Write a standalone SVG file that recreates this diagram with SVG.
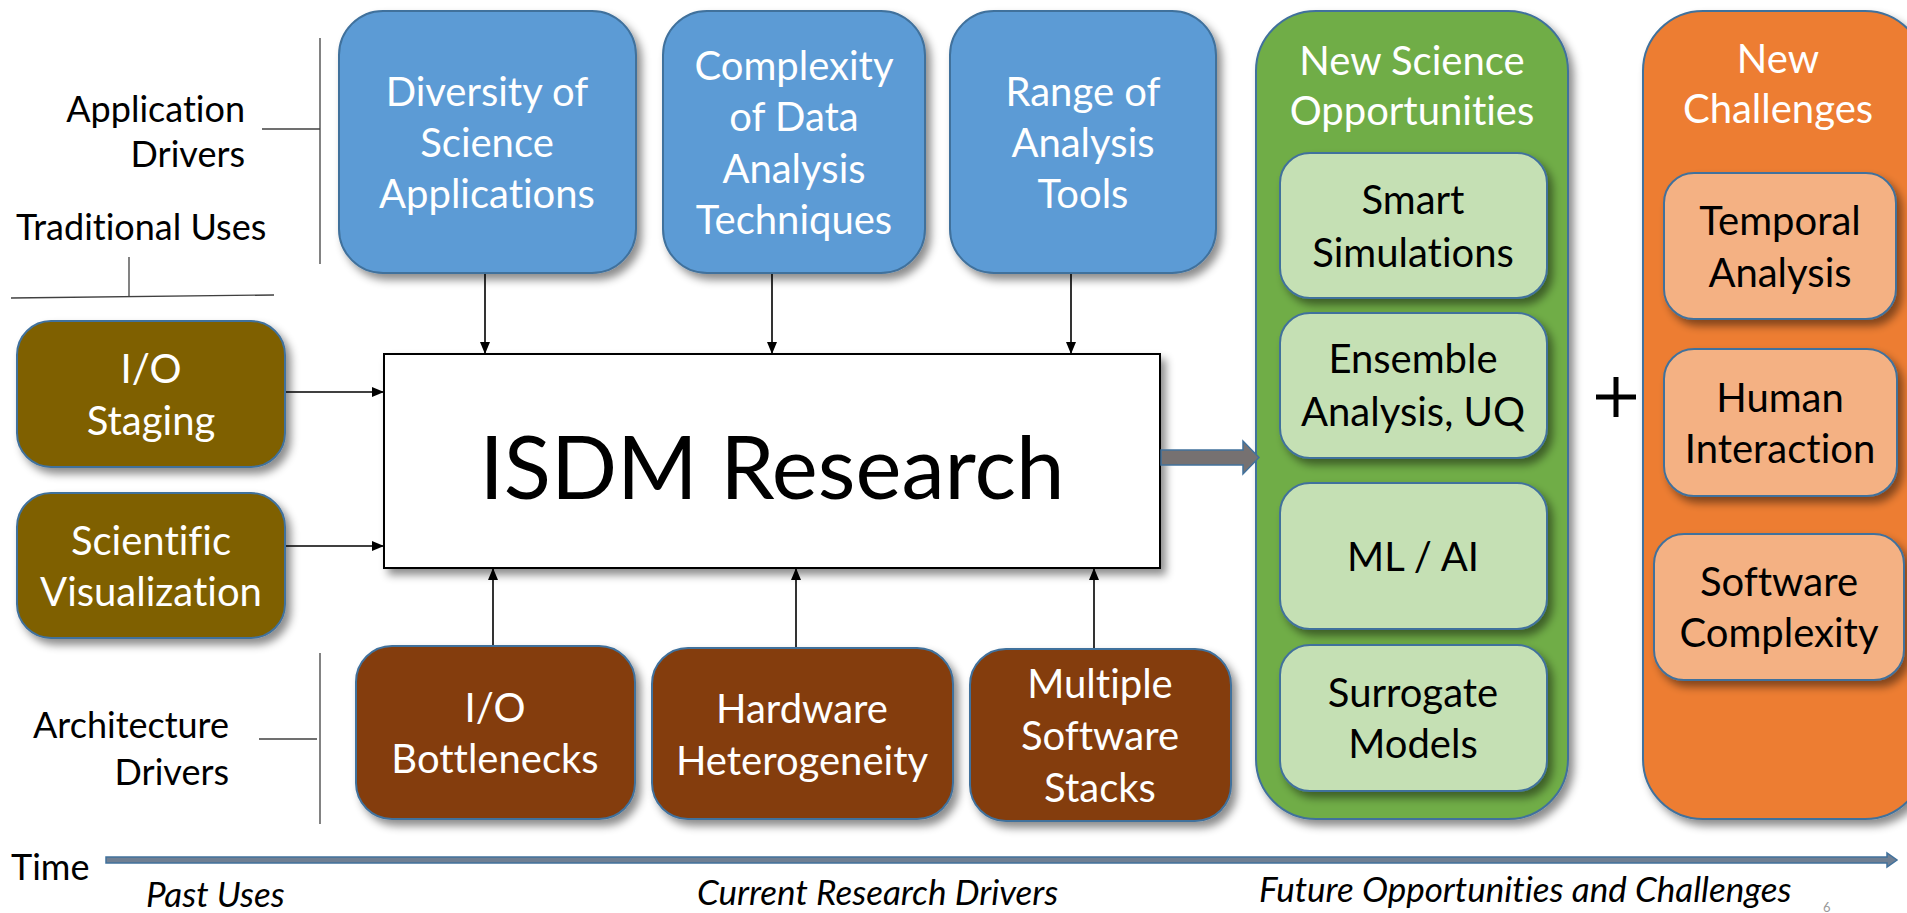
<svg xmlns="http://www.w3.org/2000/svg" width="1907" height="913" viewBox="0 0 1907 913">
  <defs>
    <filter id="shadow" x="-10%" y="-10%" width="130%" height="130%">
      <feDropShadow dx="5" dy="6" stdDeviation="4" flood-color="#000" flood-opacity="0.45"/>
    </filter>
    <marker id="arrow" viewBox="0 0 12 10" refX="12" refY="5" markerWidth="12" markerHeight="10" markerUnits="userSpaceOnUse" orient="auto">
      <path d="M0,0 L12,5 L0,10 z" fill="#000"/>
    </marker>
  </defs>
  <style>
    text { font-family: Lato, "Open Sans", "Liberation Sans", sans-serif; font-variant-ligatures: none; }
    .box { stroke: #41719c; stroke-width: 2; filter: url(#shadow); }
    .blue { fill: #5b9bd5; }
    .olive { fill: #7f6000; }
    .brown { fill: #843c0c; }
    .green { fill: #70ad47; }
    .lgreen { fill: #c5e0b4; }
    .orange { fill: #ed7d31; }
    .lorange { fill: #f4b183; }
    .tw { font-size: 40px; fill: #fff; text-anchor: middle; }
    .tk { font-size: 40px; fill: #000; text-anchor: middle; }
    .lbl { font-size: 36px; fill: #000; }
    .it { font-size: 35px; font-style: italic; fill: #000; }
    .conn { stroke: #000; stroke-width: 1.6; fill: none; marker-end: url(#arrow); }
    .rule { stroke: #404040; stroke-width: 1.3; fill: none; }
  </style>

  <!-- side labels and their bracket rules -->
  <g id="labels">
    <text class="lbl" text-anchor="end"><tspan x="245" y="122">Application</tspan><tspan x="245" y="167">Drivers</tspan></text>
    <text class="lbl" x="16" y="240">Traditional Uses</text>
    <text class="lbl" text-anchor="end"><tspan x="229" y="738">Architecture</tspan><tspan x="229" y="785">Drivers</tspan></text>
    <line class="rule" x1="262" y1="129" x2="320" y2="129"/>
    <line class="rule" x1="320" y1="38" x2="320" y2="264"/>
    <line class="rule" x1="129" y1="257" x2="129" y2="297"/>
    <line class="rule" x1="11" y1="298" x2="274" y2="295"/>
    <line class="rule" x1="259" y1="739" x2="317" y2="739"/>
    <line class="rule" x1="320" y1="653" x2="320" y2="824"/>
  </g>

  <!-- application drivers -->
  <g id="diversity">
    <rect class="box blue" x="339" y="11" width="297" height="262" rx="44"/>
    <text class="tw"><tspan x="487" y="106">Diversity of</tspan><tspan x="487" y="157">Science</tspan><tspan x="487" y="208">Applications</tspan></text>
  </g>
  <g id="complexity">
    <rect class="box blue" x="663" y="11" width="262" height="262" rx="44"/>
    <text class="tw"><tspan x="794" y="80">Complexity</tspan><tspan x="794" y="131">of Data</tspan><tspan x="794" y="183">Analysis</tspan><tspan x="794" y="234">Techniques</tspan></text>
  </g>
  <g id="range">
    <rect class="box blue" x="950" y="11" width="266" height="262" rx="44"/>
    <text class="tw"><tspan x="1083" y="106">Range of</tspan><tspan x="1083" y="157">Analysis</tspan><tspan x="1083" y="208">Tools</tspan></text>
  </g>

  <!-- traditional uses -->
  <g id="io-staging">
    <rect class="box olive" x="17" y="321" width="268" height="146" rx="34"/>
    <text class="tw"><tspan x="151" y="383">I/O</tspan><tspan x="151" y="435">Staging</tspan></text>
  </g>
  <g id="sci-vis">
    <rect class="box olive" x="17" y="493" width="268" height="145" rx="34"/>
    <text class="tw"><tspan x="151" y="555">Scientific</tspan><tspan x="151" y="606">Visualization</tspan></text>
  </g>

  <!-- central research box -->
  <g id="isdm">
    <rect x="384" y="354" width="776" height="214" fill="#fff" stroke="#000" stroke-width="2" filter="url(#shadow)"/>
    <text x="772" y="499" font-size="87" text-anchor="middle" fill="#000">ISDM Research</text>
  </g>

  <!-- architecture drivers -->
  <g id="io-bottlenecks">
    <rect class="box brown" x="356" y="646" width="279" height="173" rx="36"/>
    <text class="tw"><tspan x="495" y="722">I/O</tspan><tspan x="495" y="773">Bottlenecks</tspan></text>
  </g>
  <g id="hardware">
    <rect class="box brown" x="652" y="648" width="301" height="171" rx="36"/>
    <text class="tw"><tspan x="802" y="723">Hardware</tspan><tspan x="802" y="775">Heterogeneity</tspan></text>
  </g>
  <g id="software-stacks">
    <rect class="box brown" x="970" y="649" width="261" height="172" rx="36"/>
    <text class="tw"><tspan x="1100" y="698">Multiple</tspan><tspan x="1100" y="750">Software</tspan><tspan x="1100" y="802">Stacks</tspan></text>
  </g>

  <!-- new science opportunities -->
  <g id="opportunities">
    <rect class="box green" x="1256" y="11" width="312" height="808" rx="60"/>
    <text class="tw"><tspan x="1412" y="75">New Science</tspan><tspan x="1412" y="125">Opportunities</tspan></text>
  </g>
  <g id="smart-sim">
    <rect class="box lgreen" x="1280" y="153" width="267" height="145" rx="30"/>
    <text class="tk"><tspan x="1413" y="214">Smart</tspan><tspan x="1413" y="267">Simulations</tspan></text>
  </g>
  <g id="ensemble">
    <rect class="box lgreen" x="1280" y="313" width="267" height="145" rx="30"/>
    <text class="tk"><tspan x="1413" y="373">Ensemble</tspan><tspan x="1413" y="426">Analysis, UQ</tspan></text>
  </g>
  <g id="ml-ai">
    <rect class="box lgreen" x="1280" y="483" width="267" height="146" rx="30"/>
    <text class="tk" x="1413" y="571">ML / AI</text>
  </g>
  <g id="surrogate">
    <rect class="box lgreen" x="1280" y="645" width="267" height="146" rx="30"/>
    <text class="tk"><tspan x="1413" y="707">Surrogate</tspan><tspan x="1413" y="758">Models</tspan></text>
  </g>

  <!-- plus sign between the two columns -->
  <g id="plus" stroke="#000" stroke-width="5">
    <line x1="1596" y1="397" x2="1636" y2="397"/>
    <line x1="1616" y1="377" x2="1616" y2="417"/>
  </g>

  <!-- new challenges -->
  <g id="challenges">
    <rect class="box orange" x="1643" y="11" width="282" height="808" rx="60"/>
    <text class="tw"><tspan x="1778" y="73">New</tspan><tspan x="1778" y="123">Challenges</tspan></text>
  </g>
  <g id="temporal">
    <rect class="box lorange" x="1664" y="173" width="232" height="146" rx="30"/>
    <text class="tk"><tspan x="1780" y="235">Temporal</tspan><tspan x="1780" y="287">Analysis</tspan></text>
  </g>
  <g id="human">
    <rect class="box lorange" x="1664" y="349" width="233" height="147" rx="30"/>
    <text class="tk"><tspan x="1780" y="412">Human</tspan><tspan x="1780" y="463">Interaction</tspan></text>
  </g>
  <g id="sw-complexity">
    <rect class="box lorange" x="1654" y="534" width="250" height="146" rx="30"/>
    <text class="tk"><tspan x="1779" y="596">Software</tspan><tspan x="1779" y="647">Complexity</tspan></text>
  </g>

  <!-- connectors -->
  <g id="connectors">
    <line class="conn" x1="485" y1="274" x2="485" y2="354"/>
    <line class="conn" x1="772" y1="274" x2="772" y2="354"/>
    <line class="conn" x1="1071" y1="274" x2="1071" y2="354"/>
    <line class="conn" x1="286" y1="392" x2="384" y2="392"/>
    <line class="conn" x1="286" y1="546" x2="384" y2="546"/>
    <line class="conn" x1="493" y1="645" x2="493" y2="568"/>
    <line class="conn" x1="796" y1="647" x2="796" y2="568"/>
    <line class="conn" x1="1094" y1="648" x2="1094" y2="568"/>
    <path d="M1161,450 L1243,450 L1243,441 L1259,457.5 L1243,474 L1243,465 L1161,465 Z" fill="#767171" stroke="#41719c" stroke-width="1.5"/>
  </g>

  <!-- time axis -->
  <g id="timeline">
    <text class="lbl" x="11" y="880">Time</text>
    <path d="M106,857 L1887,857 L1887,853 L1897,860 L1887,867 L1887,863 L106,863 Z" fill="#6f7f93" stroke="#41719c" stroke-width="1.5"/>
    <text class="it" x="146" y="907">Past Uses</text>
    <text class="it" x="697" y="905">Current Research Drivers</text>
    <text class="it" x="1259" y="902">Future Opportunities and Challenges</text>
    <text x="1823" y="912" font-size="13" fill="#9a9a9a">6</text>
  </g>
</svg>
